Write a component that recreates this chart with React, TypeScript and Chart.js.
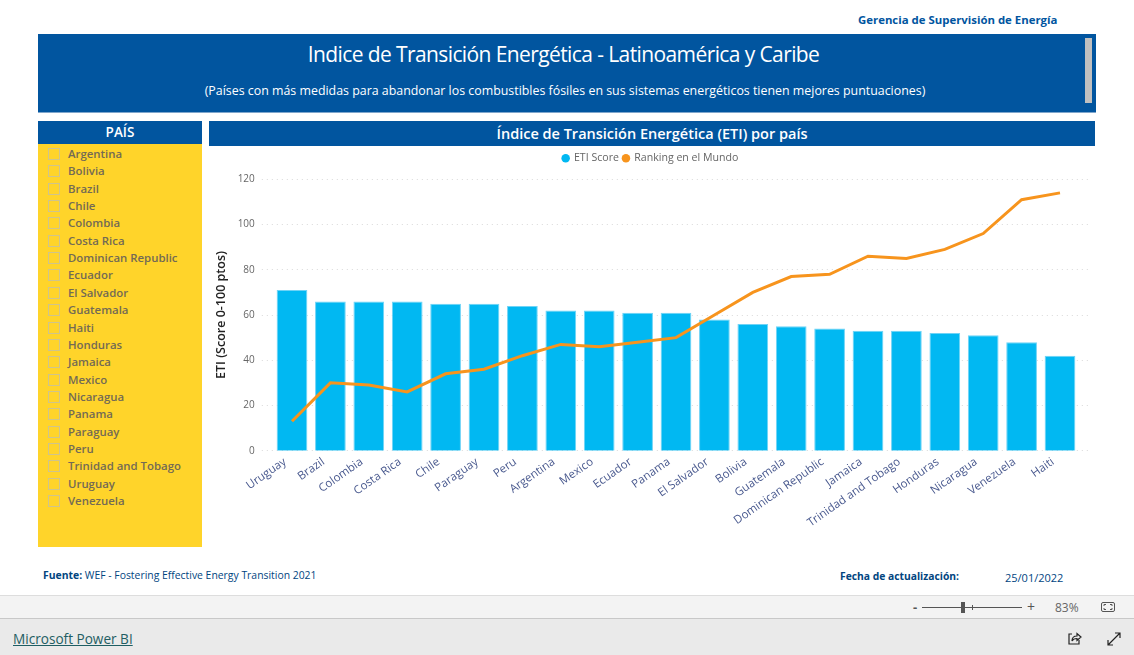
import React, { useEffect, useRef } from "react";
import { Chart, registerables } from "chart.js";

Chart.register(...registerables);

const categories = ["Uruguay","Brazil","Colombia","Costa Rica","Chile","Paraguay","Peru","Argentina","Mexico","Ecuador","Panama","El Salvador","Bolivia","Guatemala","Dominican Republic","Jamaica","Trinidad and Tobago","Honduras","Nicaragua","Venezuela","Haiti"];
const etiScore = [71,66,66,66,65,65,64,62,62,61,61,58,56,55,54,53,53,52,51,48,42];
const ranking = [13,30,29,26,34,36,42,47,46,48,50,60,70,77,78,86,85,89,96,111,114];
const slicerCountries = ["Argentina","Bolivia","Brazil","Chile","Colombia","Costa Rica","Dominican Republic","Ecuador","El Salvador","Guatemala","Haiti","Honduras","Jamaica","Mexico","Nicaragua","Panama","Paraguay","Peru","Trinidad and Tobago","Uruguay","Venezuela"];

const FONT = "'Open Sans', 'Noto Sans', sans-serif";
const BLUE = "#01559F";

const wideGrid = {
  id: "wideGrid",
  beforeDatasetsDraw(chart: any) {
    const { ctx, scales, chartArea } = chart;
    ctx.save();
    ctx.strokeStyle = "#D9D9D9";
    ctx.lineWidth = 1;
    ctx.setLineDash([1, 4]);
    for (const t of scales.y.ticks) {
      const y = Math.floor(scales.y.getPixelForValue(t.value)) + 0.5;
      ctx.beginPath();
      ctx.moveTo(chartArea.left - 11, y);
      ctx.lineTo(chartArea.right + 12, y);
      ctx.stroke();
    }
    ctx.restore();
  },
};

// leaves extra room below the legend and centres it on the whole panel, without widening the gap between items
const legendGap = {
  id: "legendGap",
  beforeLayout(chart: any) {
    const legend = chart.legend;
    if (!legend || legend.__gap) return;
    legend.__gap = true;
    const fit = legend.fit;
    legend.fit = function () {
      fit.call(this);
      this.height += 6.7;
    };
  },
  afterLayout(chart: any) {
    const legend = chart.legend;
    if (!legend) return;
    legend.left += 6.4;
    legend.right += 6.4;
    legend.top += 1;
    legend.bottom += 1;
  },
};

const abs = (left: number, top: number, extra: React.CSSProperties = {}): React.CSSProperties => ({
  position: "absolute", left, top, whiteSpace: "nowrap", fontFamily: FONT, ...extra,
});

export default function App() {
  const ref = useRef<HTMLCanvasElement>(null);
  useEffect(() => {
    const chart = new Chart(ref.current!, {
      type: "bar",
      data: {
        labels: categories,
        datasets: [
          { type: "line", label: "Ranking en el Mundo", data: ranking, borderColor: "#F7941D", backgroundColor: "#F7941D", borderWidth: 3, pointRadius: 0, pointStyle: "circle", tension: 0, order: 0 },
          { type: "bar", label: "ETI Score", data: etiScore, backgroundColor: "#01B8F2", borderColor: "#6FD3F6", borderWidth: 1, barPercentage: 0.8, categoryPercentage: 1, pointStyle: "circle", order: 1 },
        ],
      } as any,
      plugins: [wideGrid, legendGap],
      options: {
        animation: false,
        responsive: false,
        layout: { padding: { top: 0, right: 15.8, bottom: 0, left: 0 } },
        plugins: {
          tooltip: { enabled: false },
          legend: {
            position: "top",
            reverse: true,
            labels: {
              usePointStyle: true,
              boxWidth: 6,
              boxHeight: 6,
              padding: 4,
              color: "#666666",
              font: { family: FONT, size: 10.6 },
              generateLabels: (c: any) =>
                (Chart.defaults.plugins.legend.labels as any).generateLabels(c).map((l: any) => ({ ...l, lineWidth: 0 })),
            },
          },
        },
        scales: {
          x: {
            grid: { display: false },
            border: { display: false },
            afterFit: (s: any) => { s.height = 97.3; },
            ticks: { autoSkip: false, minRotation: 35, maxRotation: 35, padding: -3.7, labelOffset: -7, color: "#4A5A8F", font: { family: FONT, size: 11.5 } },
          },
          y: {
            min: 0, max: 120,
            grid: { display: false },
            border: { display: false },
            afterFit: (s: any) => { s.width = 63.8; },
            ticks: { stepSize: 20, padding: 10, color: "#666666", font: { family: FONT, size: 10 } },
            title: { display: true, text: "ETI (Score 0-100 ptos)", color: "#222222", padding: { top: 5, bottom: 0 }, font: { family: FONT, size: 12.5, weight: 600 } },
          },
        },
      } as any,
    });
    return () => chart.destroy();
  }, []);

  return (
    <div style={{ position: "absolute", left: 0, top: 0, width: 1134, height: 655, background: "#fff", overflow: "hidden" }}>
      <div style={abs(858, 12, { fontSize: 11.4, fontWeight: 700, color: "#01559F", lineHeight: "16px" })}>Gerencia de Supervisión de Energía</div>

      <div style={{ position: "absolute", left: 38, top: 34, width: 1058, height: 79, background: BLUE, borderBottom: "1px solid #7FA6CC", boxSizing: "border-box" }} />
      <div style={abs(38, 39, { width: 1051, textAlign: "center", fontSize: 21, color: "#fff", lineHeight: "30px", letterSpacing: -0.6 })}>Indice de Transición Energética - Latinoamérica y Caribe</div>
      <div style={abs(38, 82, { width: 1054, textAlign: "center", fontSize: 12.4, color: "#fff", lineHeight: "18px" })}>(Países con más medidas para abandonar los combustibles fósiles en sus sistemas energéticos tienen mejores puntuaciones)</div>
      <div style={{ position: "absolute", left: 1085, top: 38, width: 7, height: 65, background: "#C0C0C0" }} />

      <div style={{ position: "absolute", left: 38, top: 121, width: 164, height: 426, background: "#FFD42A" }} />
      <div style={abs(38, 121, { width: 164, height: 23, background: BLUE, color: "#fff", textAlign: "center", fontSize: 13.5, fontWeight: 600, lineHeight: "23px" })}>PAÍS</div>
      {slicerCountries.map((c, i) => (
        <React.Fragment key={c}>
          <div style={{ position: "absolute", left: 48, top: 148 + i * 17.35, width: 12, height: 12, border: "1px solid #CFC48C", boxSizing: "border-box" }} />
          <div style={abs(68, 145 + i * 17.35, { fontSize: 11.4, fontWeight: 600, color: "#736A55", lineHeight: "17px" })}>{c}</div>
        </React.Fragment>
      ))}

      <div style={abs(209, 121, { width: 886, height: 25, background: BLUE, color: "#fff", textAlign: "center", fontSize: 14.5, fontWeight: 600, lineHeight: "25px" })}>Índice de Transición Energética (ETI) por país</div>

      <canvas ref={ref} width={886} height={400} style={{ position: "absolute", left: 209, top: 148, width: 886, height: 400 }} />

      <div style={abs(43, 568, { fontSize: 10.4, color: "#01457F", lineHeight: "14px" })}><b>Fuente:</b> WEF - Fostering Effective Energy Transition 2021</div>
      <div style={abs(840, 569, { fontSize: 10.3, fontWeight: 700, color: "#01457F", lineHeight: "14px" })}>Fecha de actualización:</div>
      <div style={abs(1005, 571, { fontSize: 11, color: "#01457F", lineHeight: "14px" })}>25/01/2022</div>

      <div style={{ position: "absolute", left: 0, top: 595, width: 1134, height: 24, background: "#F3F3F3", borderTop: "1px solid #DDDDDD", borderBottom: "1px solid #C8C8C8", boxSizing: "border-box" }} />
      <div style={{ position: "absolute", left: 0, top: 619, width: 1134, height: 36, background: "#EAEAEA" }} />
      <div style={abs(913, 598, { fontSize: 13, color: "#555", fontWeight: 700, lineHeight: "18px" })}>-</div>
      <div style={{ position: "absolute", left: 922, top: 607, width: 100, height: 1, background: "#555" }} />
      <div style={{ position: "absolute", left: 961, top: 602, width: 4, height: 11, background: "#555" }} />
      <div style={{ position: "absolute", left: 972, top: 605, width: 1, height: 5, background: "#555" }} />
      <div style={abs(1027, 597, { fontSize: 14, color: "#555", lineHeight: "20px" })}>+</div>
      <div style={abs(1055, 600, { fontSize: 12, color: "#666", lineHeight: "15px" })}>83%</div>
      <svg style={{ position: "absolute", left: 1100, top: 601 }} width="16" height="12" viewBox="0 0 16 12" fill="none" stroke="#555"><rect x="1.5" y="1.5" width="13" height="9" rx="1.5" /><path d="M4 5V3.5H6M10 3.5H12V5M12 7V8.5H10M6 8.5H4V7" /></svg>

      <div style={abs(13, 630, { fontSize: 13.6, color: "#1F5E63", textDecoration: "underline", lineHeight: "18px" })}>Microsoft Power BI</div>
      <svg style={{ position: "absolute", left: 1067, top: 631 }} width="15" height="15" viewBox="0 0 15 15" fill="none" stroke="#222" strokeWidth="1.2"><path d="M5 3H2V13H12V9" /><path d="M5 10C5 6 8 5 10 5V2.5L14 6L10 9.5V7.5C8 7.5 6 8 5 10Z" /></svg>
      <svg style={{ position: "absolute", left: 1107, top: 632 }} width="14" height="14" viewBox="0 0 14 14" fill="none" stroke="#222" strokeWidth="1.2"><path d="M1 13L13 1M8 1H13V6M1 8V13H6" /></svg>
    </div>
  );
}
